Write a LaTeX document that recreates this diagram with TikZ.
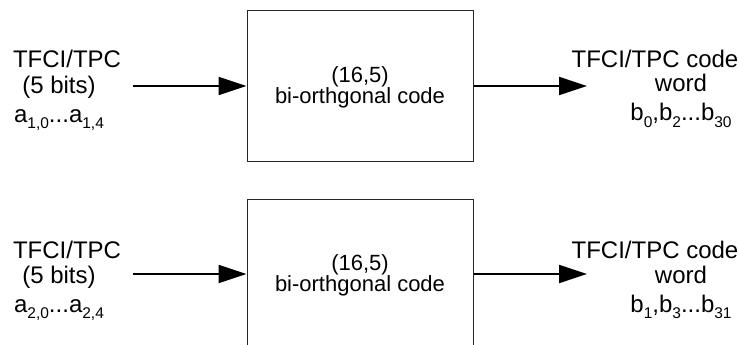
\documentclass[tikz,border=0pt]{standalone}
\usepackage{fontspec}
\setmainfont{Liberation Sans}
\usetikzlibrary{arrows.meta}
\newcommand\subx[1]{\raisebox{-6.5pt}{\fontsize{15.5}{15.5}\selectfont #1}}
\begin{document}
\begin{tikzpicture}[x=1pt,y=-1pt,
  lbl/.style={anchor=base, inner sep=0pt, font=\fontsize{24}{24}\selectfont},
  boxtxt/.style={anchor=base, inner sep=0pt, font=\fontsize{22}{22}\selectfont},
  codebox/.style={draw=black!85, line width=1pt, minimum width=226pt, minimum height=150pt, inner sep=0pt},
  flow/.style={line width=1.8pt, -{Triangle[length=28pt,width=18pt]}}]
\clip (0,0) rectangle (739,345);
\fill[white] (0,0) rectangle (739,345);
% upper branch
\node[codebox] (box1) at (360,86) {};
\node[boxtxt] (b1l1) at (360,82) {(16,5)};
\node[boxtxt] (b1l2) at (360,103) {bi-orthgonal code};
\node[lbl] (in1a) at (67,68) {TFCI/TPC};
\node[lbl] (in1b) at (59,93) {(5 bits)};
\node[lbl] (in1c) at (59,122) {a\subx{1,0}...a\subx{1,4}};
\node[lbl] (out1a) at (655,68) {TFCI/TPC code};
\node[lbl] (out1b) at (681,92) {word};
\node[lbl] (out1c) at (681,121) {b\subx{0},b\subx{2}...b\subx{30}};
\coordinate (s1) at (133,86);
\coordinate (e1) at (587,86);
\draw[flow] (s1) -- (box1.west);
\draw[flow] (box1.east) -- (e1);
% lower branch
\node[codebox] (box2) at (360,274) {};
\node[boxtxt] (b2l1) at (360,270) {(16,5)};
\node[boxtxt] (b2l2) at (360,291) {bi-orthgonal code};
\node[lbl] (in2a) at (67,258) {TFCI/TPC};
\node[lbl] (in2b) at (59,283) {(5 bits)};
\node[lbl] (in2c) at (59,312) {a\subx{2,0}...a\subx{2,4}};
\node[lbl] (out2a) at (655,258) {TFCI/TPC code};
\node[lbl] (out2b) at (681,283) {word};
\node[lbl] (out2c) at (681,312) {b\subx{1},b\subx{3}...b\subx{31}};
\coordinate (s2) at (133,274);
\coordinate (e2) at (587,274);
\draw[flow] (s2) -- (box2.west);
\draw[flow] (box2.east) -- (e2);
\end{tikzpicture}
\end{document}
